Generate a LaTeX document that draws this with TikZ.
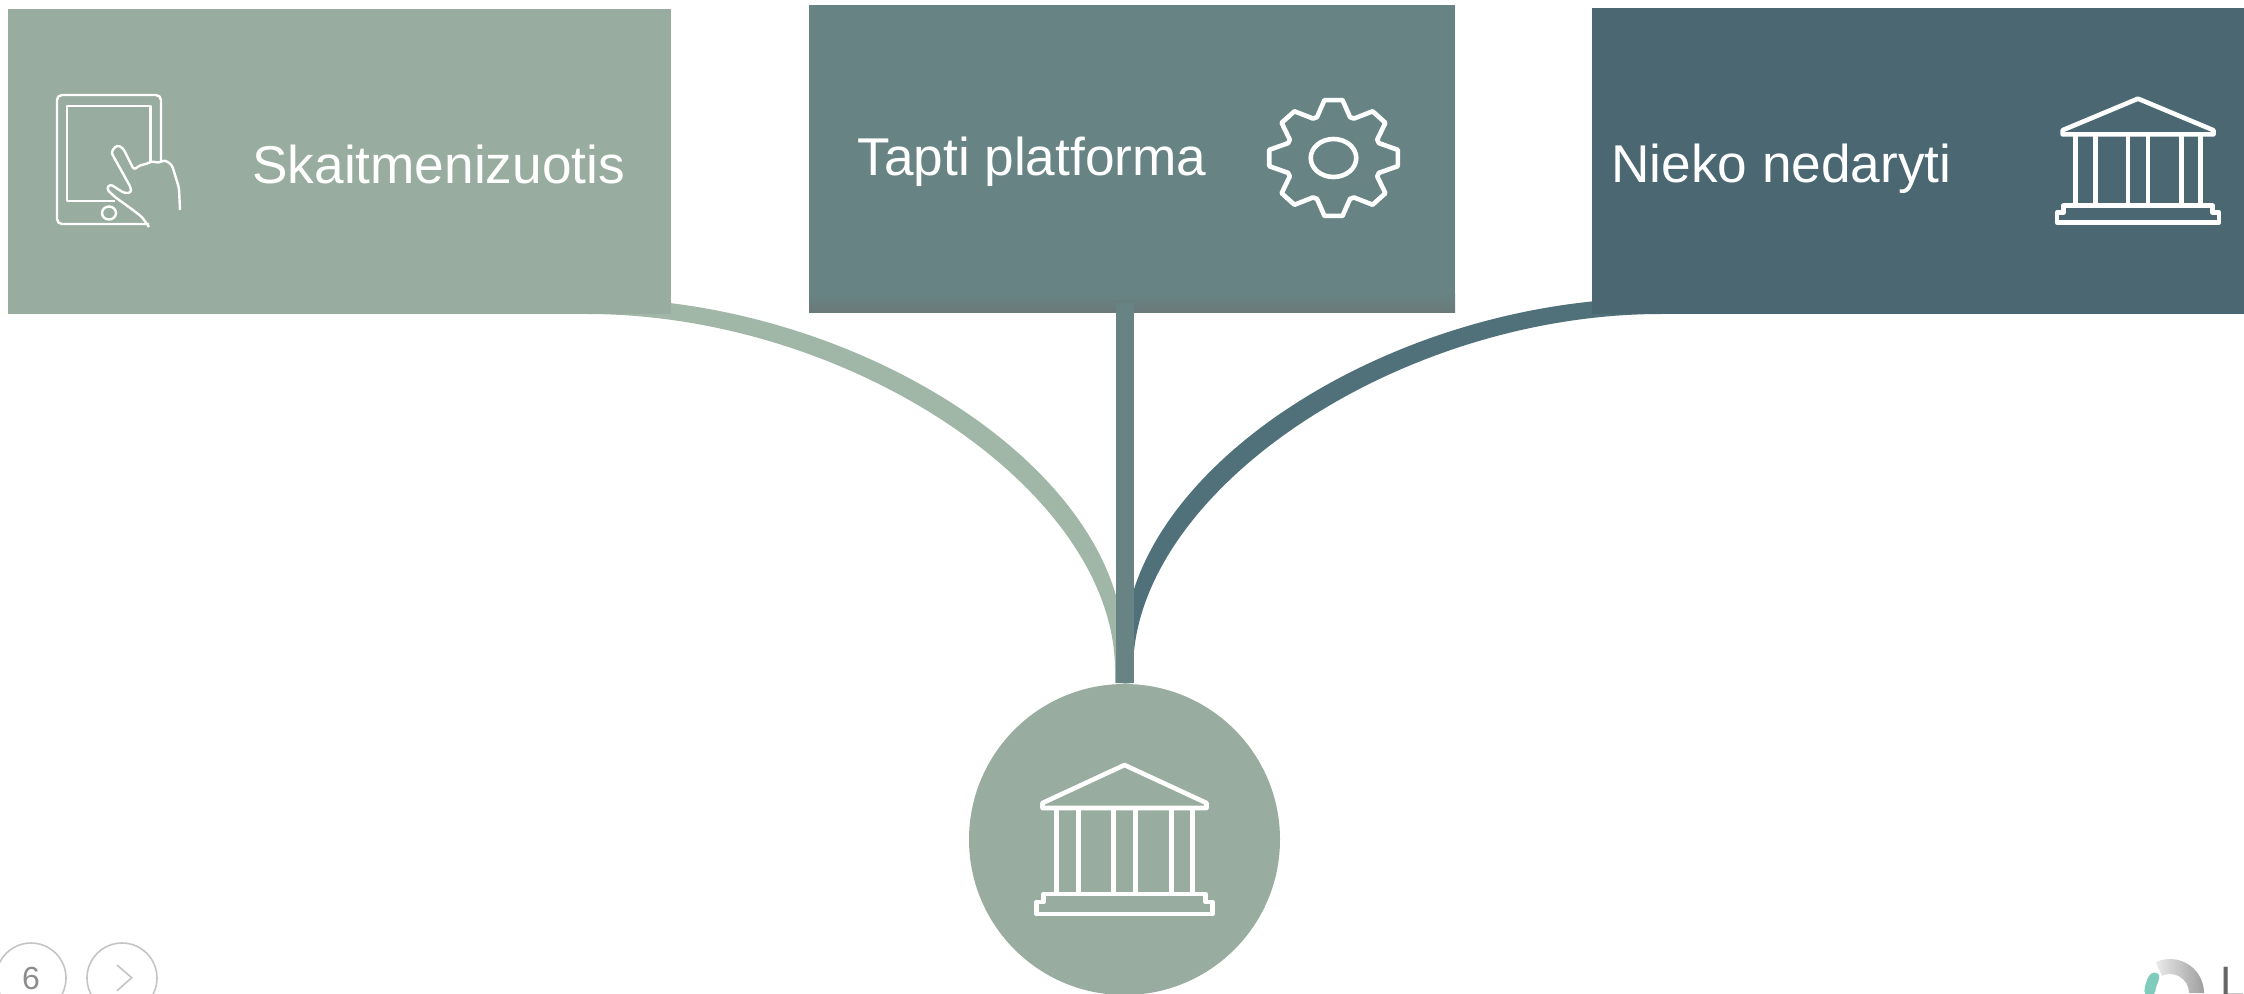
\documentclass[tikz,border=0pt]{standalone}
\usepackage{fontspec}
\setmainfont{Liberation Sans}
\usetikzlibrary{backgrounds}

\definecolor{skaitcol}{HTML}{98AC9F}
\definecolor{skaitlinkcol}{HTML}{A0B7A7}
\definecolor{taptcol}{HTML}{688384}
\definecolor{taptbandcol}{HTML}{697A78}
\definecolor{niekcol}{HTML}{4A6772}
\definecolor{nieklinkcol}{HTML}{50717A}
\definecolor{pagecol}{HTML}{8C8C8C}
\definecolor{ringcol}{HTML}{C4C4C4}
\definecolor{logoteal}{HTML}{7FCCBC}

\tikzset{
  optbox/.style={rectangle,inner sep=0pt,outer sep=0pt},
  optlabel/.style={anchor=base west,inner sep=0pt,text=white,font=\fontsize{26.6}{30}\selectfont},
  iconline/.style={draw=white,line width=2.3pt,line join=round},
  thinline/.style={draw=white,line width=1.2pt,line join=round},
  navring/.style={circle,draw=ringcol,line width=.8pt,minimum size=35pt,inner sep=0pt},
  temple/.pic={
    \draw[iconline] (-82,40) -- (0,2) -- (82,40) -- (82,45) -- (-82,45) -- cycle;
    \foreach \c in {-68,-46,-11,11,47,68} \draw[iconline] (\c,45) -- (\c,131);
    \draw[iconline] (-81,131) -- (81,131) -- (81,139) -- (88,139) -- (88,151) -- (-88,151) -- (-88,139) -- (-81,139) -- cycle;
  }
}

\begin{document}
\begin{tikzpicture}[x=0.5pt,y=-0.5pt]

\useasboundingbox (0,0) rectangle (2244,993);
\clip (0,0) rectangle (2244,993);

%Options
\node (skait) at (339.5,161.5) [optbox,fill=skaitcol,minimum width=331.5pt,minimum height=152.5pt] {};
\node (tapt)  at (1132,158.5)  [optbox,fill=taptcol,minimum width=323pt,minimum height=153.5pt] {};
\node (niek)  at (1918,161)    [optbox,fill=niekcol,minimum width=326pt,minimum height=153pt] {};
\shade[top color=taptcol,bottom color=taptbandcol] ([yshift=9.5pt]tapt.south west) rectangle (tapt.south east);

\node (skaitlabel) at (252,183)  [optlabel] {Skaitmenizuotis};
\node (taptlabel)  at (857,175.5) [optlabel] {Tapti platforma};
\node (nieklabel)  at (1611,182) [optlabel] {Nieko nedaryti};

%Result
\node (hub) at (1124.5,839.5) [circle,fill=skaitcol,inner sep=0pt,minimum size=155.5pt] {};

%from Options to Result
\begin{scope}[on background layer]
\fill[skaitlinkcol] ([xshift=123.75pt]skait.south) -- (590,298) .. controls (857,298) and (1124,470) .. (1124,650) -- (hub.north) -- (1115,683) -- (1115,670) .. controls (1115,492) and (851,314) .. ([xshift=123.75pt]skait.south);
\fill[nieklinkcol] ([xshift=-128.5pt]niek.south) -- (1658,298) .. controls (1391,298) and (1124,470) .. (1124,650) -- (hub.north) -- (1133,683) -- (1133,670) .. controls (1133,492) and (1397,314) .. ([xshift=-128.5pt]niek.south);
\end{scope}
\draw[taptcol,line width=9pt] ([xshift=-3.75pt,yshift=4.5pt]tapt.south) -- ([yshift=.5pt]hub.north);

%Icons
\draw[thinline,rounded corners=2.5pt] (161,161) -- (161,95) -- (57,95) -- (57,224) -- (149,224);
\draw[thinline] (150.6,163) -- (150.6,106) -- (67,106) -- (67,201) -- (115,201);
\draw[thinline] (109,213) circle [x radius=7,y radius=6.5];
\draw[thinline,rounded corners=1.5pt] (180,210) -- (179,188) -- (172,165) -- (165,160) -- (158,163) -- (151.5,161) -- (147,164) -- (140,165) -- (134,170) -- (123,148) -- (117,145) -- (111,152) -- (131,188) -- (131,193) -- (124,193) -- (110,184) -- (106.5,189) -- (115,197) -- (133,210) -- (142,217) -- (149,227);

\begin{scope}[shift={(1333.5,158)},xscale=1.11]
\draw[iconline] (-20:43.5) \foreach \a in {0,45,...,315} { -- (\a-20:43.5) -- (\a-8:58.5) -- (\a+8:58.5) -- (\a+20:43.5) } -- cycle;
\draw[iconline] (0,0) circle [x radius=20.5,y radius=19];
\end{scope}

\pic at (2138,97) [xscale=.92,yscale=.83] {temple};
\pic at (1124.5,763) {temple};

%Footer
\node (pagenum) at (31,978) [navring,text=pagecol,font=\fontsize{16}{18}\selectfont] {6};
\node (nextbtn) at (122,978) [navring] {};
\draw[ringcol,line width=.8pt] (117,965) -- (131.7,977.7) -- (117,990.7);

\begin{scope}[shift={(2170,993)}]
\shade[left color=white!92!black,right color=black!38] (-115:34) arc [start angle=-115,end angle=0,radius=34] -- (0:19) arc [start angle=0,end angle=-115,radius=19] -- cycle;
\end{scope}
\fill[logoteal,rounded corners=2pt] (2158,972) -- (2150,973) -- (2145,985) -- (2144,995) -- (2155,995) -- (2156,986) -- (2160,978) -- cycle;
\node (logoletter) at (2220,997) [anchor=base west,inner sep=0pt,text=black!60,font=\fontsize{22}{24}\selectfont] {L};

\end{tikzpicture}
\end{document}
